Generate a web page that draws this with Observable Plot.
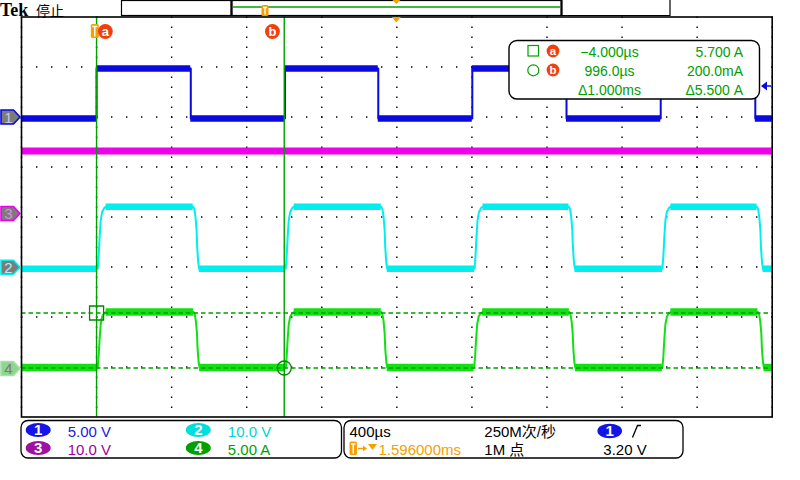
<!DOCTYPE html>
<html><head><meta charset="utf-8">
<script src="https://cdn.jsdelivr.net/npm/d3@7"></script>
<script src="https://cdn.jsdelivr.net/npm/@observablehq/plot@0.6"></script>
<style>
html,body{margin:0;padding:0;background:#fff;}
#chart{position:relative;width:800px;height:480px;overflow:hidden;background:#fff;}
svg{overflow:visible;}
</style></head><body><div id="chart"></div>
<script>
// ---------- scope settings ----------
const channelNames = ["1", "2", "3", "4"];
const chColors = ["#0a0ae0", "#00eeee", "#ee00ee", "#12e012"];
const chScales = [5, 10, 10, 5];          // units per division
const chGroundDiv = [1.97, -1.034, 0.04, -3.06]; // ground marker, divisions from centre
const timeDomain = [-404, 3596];           // µs (400 µs/div, trigger at 0)
const gridTimes = [-404, -4, 396, 796, 1196, 1596, 1996, 2396, 2796, 3196, 3596];
const gridDivs = [-3, -2, -1, 0, 1, 2, 3];

// ---------- waveform values ----------
// CH1 (5 V/div)
const ch1Rises = [-4, 1000, 1998, 3002];
const ch1Falls = [498, 1497, 2500, 3506];
const ch1Low = 0, ch1High = 5.0;
// CH2 (10 V/div)
const ch2Rises = [2, 1004, 2010, 3011];
const ch2Falls = [511, 1513, 2513, 3515];
const ch2Low = 0, ch2High = 12.4;
// CH3 (10 V/div), flat
const ch3Times = [-404, 3596];
const ch3Level = 12.8;
// CH4 (5 A/div)
const ch4Rises = [2, 1004, 2008, 3011];
const ch4Falls = [513, 1513, 2515, 3520];
const ch4Low = 0.25, ch4High = 5.8;
// edge shapes of CH2/CH4: [µs after edge start, fraction of swing]
const riseShape = [[0, 0], [5, 0.2], [10, 0.5], [16, 0.78], [24, 0.92], [35, 0.98], [45, 1]];
const fallShape = [[0, 1], [6, 0.96], [12, 0.84], [18, 0.62], [21, 0.35], [27, 0.09], [32, 0]];
const sharpRise = [[0, 0], [0, 1]];
const sharpFall = [[0, 1], [0, 0]];

// cursors (CH4)
const cursorTimes = [-4, 996];
const cursorLevels = [5.7, 0.2];
const readoutRows = [["a", "−4.000µs", "5.700 A"], ["b", "996.0µs", "200.0mA"], ["", "Δ1.000ms", "Δ5.500 A"]];

// status bar texts
const chSettings = ["5.00 V", "10.0 V", "10.0 V", "5.00 A"];
const timebase = "400µs";
const triggerPos = "1.596000ms";
const sampleRate = "250M次/秒";
const recordLen = "1M 点";
const trigLevelText = "3.20 V";
const trigLevel = 3.2;

const toDiv = (ch, v) => chGroundDiv[ch] + v / chScales[ch];

function trace(ch, rises, falls, lo, hi, rShape, fShape) {
  const ev = [...rises.map(t => ({t, up: true})), ...falls.map(t => ({t, up: false}))].sort((a, b) => a.t - b.t);
  let lvl = ev[0].up ? lo : hi;
  const pts = [{t: timeDomain[0], v: lvl}];
  const flats = [];
  let segStart = timeDomain[0];
  for (const e of ev) {
    const shape = e.up ? rShape : fShape;
    flats.push({t1: segStart, t2: e.t, v: lvl});
    for (const [dt, f] of shape) pts.push({t: e.t + dt, v: lo + f * (hi - lo)});
    lvl = e.up ? hi : lo;
    segStart = e.t + shape[shape.length - 1][0];
  }
  pts.push({t: timeDomain[1], v: lvl});
  flats.push({t1: segStart, t2: timeDomain[1], v: lvl});
  return {
    pts: pts.map(p => ({t: p.t, d: toDiv(ch, p.v)})),
    flats: flats.map(f => ({t1: f.t1, t2: f.t2, d: toDiv(ch, f.v)}))
  };
}

const w1 = trace(0, ch1Rises, ch1Falls, ch1Low, ch1High, sharpRise, sharpFall);
const w2 = trace(1, ch2Rises, ch2Falls, ch2Low, ch2High, riseShape, fallShape);
const w4 = trace(3, ch4Rises, ch4Falls, ch4Low, ch4High, riseShape, fallShape);
const w3flat = [{t1: ch3Times[0], t2: ch3Times[1], d: toDiv(2, ch3Level)}];

const waveMarks = (w, color, band) => [
  Plot.line(w.pts, {x: "t", y: "d", stroke: color, strokeWidth: 2}),
  Plot.ruleY(w.flats, {x1: "t1", x2: "t2", y: "d", stroke: color, strokeWidth: band})
];

const plot = Plot.plot({
  width: 800, height: 480,
  marginLeft: 21, marginRight: 28.3, marginTop: 16.5, marginBottom: 63.5,
  x: {domain: timeDomain, axis: null},
  y: {domain: [-4, 4], axis: null},
  style: {background: "white", overflow: "visible"},
  marks: [
    Plot.ruleX(gridTimes, {stroke: "#000", strokeWidth: 1.4, strokeDasharray: "1.4,8.6"}),
    Plot.ruleY(gridDivs, {stroke: "#000", strokeWidth: 1.4, strokeDasharray: "1.4,13.6"}),
    Plot.ruleY(w3flat, {x1: "t1", x2: "t2", y: "d", stroke: chColors[2], strokeWidth: 7}),
    ...waveMarks(w1, chColors[0], 6.5),
    ...waveMarks(w2, chColors[1], 6.5),
    ...waveMarks(w4, chColors[3], 7.5),
    Plot.ruleX(cursorTimes, {stroke: "#00a000", strokeWidth: 1.4}),
    Plot.ruleY(cursorLevels.map(v => toDiv(3, v)), {stroke: "#00a000", strokeWidth: 1.3, strokeDasharray: "4.5,3"}),
    Plot.dot([{t: cursorTimes[0], d: toDiv(3, cursorLevels[0])}], {x: "t", y: "d", symbol: "square", r: 7.9, stroke: "#008800", strokeWidth: 1.3}),
    Plot.dot([{t: cursorTimes[1], d: toDiv(3, cursorLevels[1])}], {x: "t", y: "d", symbol: "circle", r: 7, stroke: "#008800", strokeWidth: 1.3}),
    Plot.frame({stroke: "#000", strokeWidth: 1.6})
  ]
});
document.getElementById("chart").appendChild(plot);

const X = v => plot.scale("x").apply(v);
const Y = v => plot.scale("y").apply(v);
const svg = d3.select(plot);
const g = svg.append("g").attr("font-family", "'Liberation Sans', Arial, sans-serif").attr("text-anchor", "start");
const ORANGE = "#f5a000", RED = "#f04010", CG = "#00a000";

// ---- top bar ----
g.append("text").attr("x", 0).attr("y", 16).attr("font-family", "'Liberation Serif', serif")
  .attr("font-weight", "bold").attr("font-size", 18).text("Tek");
g.append("text").attr("x", 36).attr("y", 16.3).attr("font-family", "'Noto Sans CJK SC', sans-serif")
  .attr("font-size", 14).text("停止");
g.append("rect").attr("x", 121.5).attr("y", 0.5).attr("width", 110).attr("height", 15).attr("fill", "none").attr("stroke", "#000").attr("stroke-width", 1.2);
g.append("rect").attr("x", 231.5).attr("y", 0.5).attr("width", 330).attr("height", 15).attr("fill", "none").attr("stroke", "#000").attr("stroke-width", 1.2);
g.append("line").attr("x1", 231.5).attr("x2", 231.5).attr("y1", 0).attr("y2", 16).attr("stroke", "#000").attr("stroke-width", 2.2);
g.append("line").attr("x1", 561.5).attr("x2", 561.5).attr("y1", 0).attr("y2", 16).attr("stroke", "#000").attr("stroke-width", 2.2);
g.append("path").attr("d", "M562,15.5H670V0").attr("fill", "none").attr("stroke", "#000").attr("stroke-width", 1.2);
g.append("line").attr("x1", 233).attr("x2", 560).attr("y1", 7).attr("y2", 7).attr("stroke", CG).attr("stroke-width", 1.3);
function tMarker(x, y, w, h) {
  g.append("rect").attr("x", x).attr("y", y).attr("width", w).attr("height", h).attr("rx", 1.5).attr("fill", ORANGE);
  g.append("path").attr("d", `M${x + 1.5},${y + 2.5}H${x + w - 1.5}M${x + w / 2},${y + 2.5}V${y + h - 1.5}`)
    .attr("stroke", "#fff").attr("stroke-width", 1.4).attr("fill", "none");
}
tMarker(261.5, 5, 7, 11);
const xc = X(1596);
g.append("path").attr("d", `M${xc - 4},0H${xc + 4}L${xc},4Z`).attr("fill", ORANGE);
g.append("path").attr("d", `M${xc - 4.5},17H${xc + 4.5}L${xc},22.5Z`).attr("fill", ORANGE);

// cursor labels at top
tMarker(X(0) - 6, 24, 8, 14);
function badgeCircle(cx, cy, r, letter, fs) {
  g.append("circle").attr("cx", cx).attr("cy", cy).attr("r", r).attr("fill", RED);
  g.append("text").attr("x", cx).attr("y", cy + fs * 0.33).attr("text-anchor", "middle").attr("fill", "#fff")
    .attr("font-weight", "bold").attr("font-size", fs).text(letter);
}
badgeCircle(X(cursorTimes[0]) + 9.3, 31.5, 7.4, "a", 13);
badgeCircle(X(cursorTimes[1]) - 11.3, 31.5, 7.4, "b", 13);

// trigger level arrow (CH1)
const ty = Y(toDiv(0, trigLevel));
g.append("path").attr("d", `M761,${ty}L767,${ty - 4.5}V${ty + 4.5}Z`).attr("fill", chColors[0]);
g.append("line").attr("x1", 765).attr("x2", 771).attr("y1", ty).attr("y2", ty).attr("stroke", chColors[0]).attr("stroke-width", 1.5);

// channel ground markers
const markerFill = ["#7c7c7c", "#7c7c7c", "#7c7c7c", "#8fd48f"];
const markerText = ["#c8c8e0", "#b0f0f0", "#d890d8", "#7a7a7a"];
chGroundDiv.forEach((d, i) => {
  const yc = Y(d) - 1;
  g.append("path").attr("d", `M1,${yc - 7}H13.5L20,${yc}L13.5,${yc + 7}H1Z`).attr("fill", markerFill[i])
    .attr("stroke", i === 3 ? "#a8e0a8" : chColors[i]).attr("stroke-width", 1.6);
  g.append("text").attr("x", 8.5).attr("y", yc + 5.5).attr("text-anchor", "middle").attr("font-size", 15)
    .attr("fill", markerText[i]).text(channelNames[i]);
});

// ---- cursor readout box ----
g.append("rect").attr("x", 509).attr("y", 40.5).attr("width", 250.5).attr("height", 58.5).attr("rx", 8)
  .attr("fill", "#fff").attr("stroke", "#000").attr("stroke-width", 1.4);
g.append("rect").attr("x", 528).attr("y", 45.5).attr("width", 10.5).attr("height", 10.5).attr("fill", "none").attr("stroke", CG).attr("stroke-width", 1.2);
g.append("circle").attr("cx", 533.3).attr("cy", 70.3).attr("r", 5.5).attr("fill", "none").attr("stroke", CG).attr("stroke-width", 1.2);
const rowBase = [57, 76, 94.5];
readoutRows.forEach((r, i) => {
  if (r[0]) badgeCircle(553, rowBase[i] - 6, 6.4, r[0], 11.5);
  g.append("text").attr("x", 609.5).attr("y", rowBase[i]).attr("text-anchor", "middle").attr("font-size", 14).attr("fill", CG).text(r[1]);
  g.append("text").attr("x", 743).attr("y", rowBase[i]).attr("text-anchor", "end").attr("font-size", 14).attr("fill", CG).text(r[2]);
});

// ---- status bar ----
g.append("rect").attr("x", 21).attr("y", 420.5).attr("width", 320.5).attr("height", 37.5).attr("rx", 7)
  .attr("fill", "#fff").attr("stroke", "#000").attr("stroke-width", 1.3);
g.append("rect").attr("x", 344).attr("y", 420.5).attr("width", 339).attr("height", 37.5).attr("rx", 7)
  .attr("fill", "#fff").attr("stroke", "#000").attr("stroke-width", 1.3);
const badgeFill = ["#1414e6", "#00dede", "#a010a0", "#00a000"];
const textCol = ["#2020e0", "#00d4d4", "#a000a0", "#00a000"];
const slotX = [38.2, 198.3, 38.2, 198.3], slotY = [430, 430, 448, 448];
[0, 1, 2, 3].forEach(i => {
  g.append("ellipse").attr("cx", slotX[i]).attr("cy", slotY[i]).attr("rx", 12.5).attr("ry", 7).attr("fill", badgeFill[i]);
  g.append("text").attr("x", slotX[i]).attr("y", slotY[i] + 5.3).attr("text-anchor", "middle").attr("font-size", 15)
    .attr("font-weight", "bold").attr("fill", "#fff").text(channelNames[i]);
  g.append("text").attr("x", slotX[i] + 29.5).attr("y", slotY[i] + 7).attr("font-size", 15).attr("fill", textCol[i]).text(chSettings[i]);
});
g.append("text").attr("x", 349.5).attr("y", 437).attr("font-size", 15).text(timebase);
tMarker(349.5, 441.5, 7.5, 13.5);
g.append("path").attr("d", "M358,448.5H365").attr("stroke", ORANGE).attr("stroke-width", 1.5);
g.append("path").attr("d", "M363,445.5L367,448.5L363,451.5Z").attr("fill", ORANGE);
g.append("path").attr("d", "M368,444H377L372.5,450Z").attr("fill", ORANGE);
g.append("text").attr("x", 461).attr("y", 455).attr("text-anchor", "end").attr("font-size", 15).attr("fill", ORANGE).text(triggerPos);
g.append("text").attr("x", 484.3).attr("y", 437).attr("font-size", 15).attr("font-family", "'Liberation Sans','Noto Sans CJK SC',sans-serif").text(sampleRate);
g.append("text").attr("x", 484.3).attr("y", 455).attr("font-size", 15).attr("font-family", "'Liberation Sans','Noto Sans CJK SC',sans-serif").text(recordLen);
g.append("ellipse").attr("cx", 609.7).attr("cy", 431).attr("rx", 12.3).attr("ry", 7.3).attr("fill", badgeFill[0]);
g.append("text").attr("x", 609.7).attr("y", 436.3).attr("text-anchor", "middle").attr("font-size", 15).attr("font-weight", "bold").attr("fill", "#fff").text(channelNames[0]);
g.append("path").attr("d", "M632.5,437.5L637.5,425.5H641").attr("fill", "none").attr("stroke", "#000").attr("stroke-width", 1.3);
g.append("text").attr("x", 603.3).attr("y", 455).attr("font-size", 15).text(trigLevelText);
</script>
</body></html>
